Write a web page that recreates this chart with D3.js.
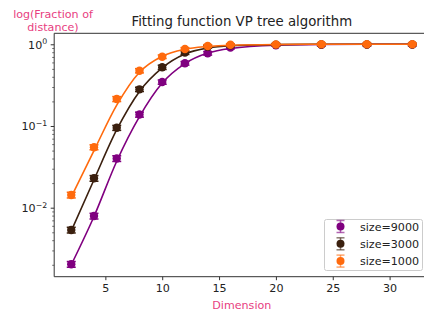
<!DOCTYPE html>
<html>
<head>
<meta charset="utf-8">
<script src="https://cdn.jsdelivr.net/npm/d3@7"></script>
<style>
  html, body { margin: 0; padding: 0; background: #fff; }
  svg { display: block; font-family: "DejaVu Sans", sans-serif; }
</style>
</head>
<body>
<svg id="chart" width="424" height="311"></svg>
<script>
'use strict';

// ── Data ─────────────────────────────────────────────────────
const dims = [2, 4, 6, 8, 10, 12, 14, 16, 20, 24, 28, 32];

const seriesNames = ['size=9000', 'size=3000', 'size=1000'];
const seriesColors = ['#800080', '#3b200f', '#ff6a0d'];

// measured fraction (points with error bars)
const frac9000 = [0.00203, 0.0079, 0.040, 0.138, 0.345, 0.585, 0.776, 0.915, 0.975, 0.985, 0.99, 0.99];
const frac3000 = [0.00533, 0.0229, 0.095, 0.281, 0.523, 0.79, 0.935, 0.97, 0.99, 0.995, 0.995, 0.995];
const frac1000 = [0.0143, 0.055, 0.214, 0.475, 0.705, 0.875, 0.953, 0.985, 0.995, 1.0, 1.0, 1.0];

// relative error (half width)
const err9000 = [0.08, 0.08, 0.08, 0.07, 0.06, 0.05, 0.05, 0.04, 0.03, 0.03, 0.03, 0.03];
const err3000 = [0.08, 0.08, 0.07, 0.06, 0.06, 0.05, 0.04, 0.04, 0.03, 0.03, 0.03, 0.03];
const err1000 = [0.08, 0.07, 0.07, 0.06, 0.05, 0.04, 0.04, 0.03, 0.03, 0.03, 0.03, 0.03];

// fitted curves
const fit9000 = [0.00200, 0.0078, 0.037, 0.130, 0.335, 0.58, 0.78, 0.89, 0.975, 0.995, 1.0, 1.0];
const fit3000 = [0.00520, 0.0220, 0.090, 0.265, 0.515, 0.76, 0.90, 0.96, 0.99, 1.0, 1.0, 1.0];
const fit1000 = [0.0135, 0.050, 0.180, 0.455, 0.715, 0.87, 0.94, 0.975, 0.995, 1.0, 1.0, 1.0];

const xTicks = [5, 10, 15, 20, 25, 30];
const yMajor = [1, 0.1, 0.01];
const yExp = ['0', '\u22121', '\u22122'];

const series = [
  { name: seriesNames[0], color: seriesColors[0], vals: frac9000, err: err9000, fit: fit9000 },
  { name: seriesNames[1], color: seriesColors[1], vals: frac3000, err: err3000, fit: fit3000 },
  { name: seriesNames[2], color: seriesColors[2], vals: frac1000, err: err1000, fit: fit1000 },
];

// ── Layout ───────────────────────────────────────────────────
const L = 54.2, R = 429.4, T = 33.3, B = 276.7;
const AXIS = '#333';
const PINK = '#e8407f';
const FS = 11.1;

const svg = d3.select('#chart');

const x = d3.scaleLinear().domain([0.5, 33.5]).range([L, R]);
const y = d3.scaleLog().domain([0.00143, 1.363]).range([B, T]);

// ── Axes ─────────────────────────────────────────────────────
const xAxis = d3.axisBottom(x).tickValues(xTicks).tickSize(3.5).tickPadding(3.5)
  .tickFormat(d3.format('d'));
const gx = svg.append('g').attr('transform', `translate(0,${B})`).call(xAxis);
gx.select('.domain').remove();
gx.selectAll('line').attr('stroke', AXIS);
gx.selectAll('text').attr('font-size', FS).attr('fill', '#222')
  .attr('font-family', '"DejaVu Sans", sans-serif');

// minor log ticks
const minor = [];
[0.001, 0.01, 0.1, 1].forEach(dec => {
  for (let k = 2; k <= 9; k++) {
    const v = dec * k;
    if (v > y.domain()[0] && v < y.domain()[1]) minor.push(v);
  }
});
const gy = svg.append('g').attr('transform', `translate(${L},0)`);
gy.call(d3.axisLeft(y).tickValues(minor).tickSize(2).tickFormat(''));
gy.select('.domain').remove();
gy.selectAll('line').attr('stroke', AXIS).attr('stroke-width', 0.7);

const gyM = svg.append('g').attr('transform', `translate(${L},0)`);
gyM.call(d3.axisLeft(y).tickValues(yMajor).tickSize(3.5).tickFormat(''));
gyM.select('.domain').remove();
gyM.selectAll('line').attr('stroke', AXIS);

yMajor.forEach((v, i) => {
  const t = svg.append('text')
    .attr('x', L - 7).attr('y', y(v) + 4.5)
    .attr('text-anchor', 'end')
    .attr('font-size', FS).attr('fill', '#222');
  t.append('tspan').text('10');
  t.append('tspan').attr('dy', -4.5).attr('font-size', 7.8).text(yExp[i]);
});

// spines
svg.append('line').attr('x1', L).attr('x2', L).attr('y1', T).attr('y2', B)
  .attr('stroke', AXIS).attr('stroke-width', 1);
svg.append('line').attr('x1', L).attr('x2', R).attr('y1', B).attr('y2', B)
  .attr('stroke', AXIS).attr('stroke-width', 1);
svg.append('line').attr('x1', L).attr('x2', R).attr('y1', T).attr('y2', T)
  .attr('stroke', AXIS).attr('stroke-width', 1);

// ── Series ───────────────────────────────────────────────────
const line = d3.line()
  .x((d, i) => x(dims[i]))
  .y(d => y(d))
  .curve(d3.curveMonotoneX);

const plot = svg.append('g');

series.forEach(s => {
  const g = plot.append('g');
  const pts = s.vals.map((v, i) => ({ x: dims[i], v, e: v * s.err[i] }));

  // error bars
  const eb = g.selectAll('g.eb').data(pts).join('g').attr('class', 'eb');
  eb.append('line')
    .attr('x1', d => x(d.x)).attr('x2', d => x(d.x))
    .attr('y1', d => y(d.v - d.e)).attr('y2', d => y(d.v + d.e))
    .attr('stroke', s.color).attr('stroke-width', 1.5);
  [-1, 1].forEach(sg => {
    eb.append('line')
      .attr('x1', d => x(d.x) - 4.5).attr('x2', d => x(d.x) + 4.5)
      .attr('y1', d => y(d.v + sg * d.e)).attr('y2', d => y(d.v + sg * d.e))
      .attr('stroke', s.color).attr('stroke-width', 1.5);
  });
  g.selectAll('circle').data(pts).join('circle')
    .attr('cx', d => x(d.x)).attr('cy', d => y(d.v))
    .attr('r', 4.2).attr('fill', s.color);

  // fitted curve
  g.append('path').datum(s.fit)
    .attr('d', line)
    .attr('fill', 'none').attr('stroke', s.color).attr('stroke-width', 1.6);
});

// ── Titles ───────────────────────────────────────────────────
svg.append('text')
  .attr('x', (L + R) / 2).attr('y', 26)
  .attr('text-anchor', 'middle').attr('font-size', 13.3).attr('fill', '#222')
  .text('Fitting function VP tree algorithm');

svg.append('text')
  .attr('x', (L + R) / 2).attr('y', 309)
  .attr('text-anchor', 'middle').attr('font-size', FS).attr('fill', PINK)
  .text('Dimension');

const yl = svg.append('text')
  .attr('text-anchor', 'middle').attr('font-size', FS).attr('fill', PINK);
yl.append('tspan').attr('x', 53).attr('y', 18).text('log(Fraction of');
yl.append('tspan').attr('x', 53).attr('y', 31).text('distance)');

// ── Legend ───────────────────────────────────────────────────
const lg = svg.append('g').attr('transform', 'translate(324.5,219.5)');
lg.append('rect').attr('width', 98).attr('height', 51).attr('rx', 2)
  .attr('fill', '#fff').attr('fill-opacity', 0.8)
  .attr('stroke', '#ccc').attr('stroke-width', 1);

series.forEach((s, i) => {
  const row = lg.append('g').attr('transform', `translate(16,${7 + i * 17.3})`);
  row.append('line').attr('x1', 0).attr('x2', 0).attr('y1', -6).attr('y2', 6)
    .attr('stroke', s.color).attr('stroke-width', 1.5).attr('stroke-opacity', 0.6);
  [-6, 6].forEach(yy => row.append('line')
    .attr('x1', -4).attr('x2', 4).attr('y1', yy).attr('y2', yy)
    .attr('stroke', s.color).attr('stroke-width', 1.5).attr('stroke-opacity', 0.6));
  row.append('circle').attr('r', 4).attr('fill', s.color);
  row.append('text').attr('x', 19.5).attr('y', 4)
    .attr('font-size', FS).attr('fill', '#222').text(s.name);
});
</script>
</body>
</html>
